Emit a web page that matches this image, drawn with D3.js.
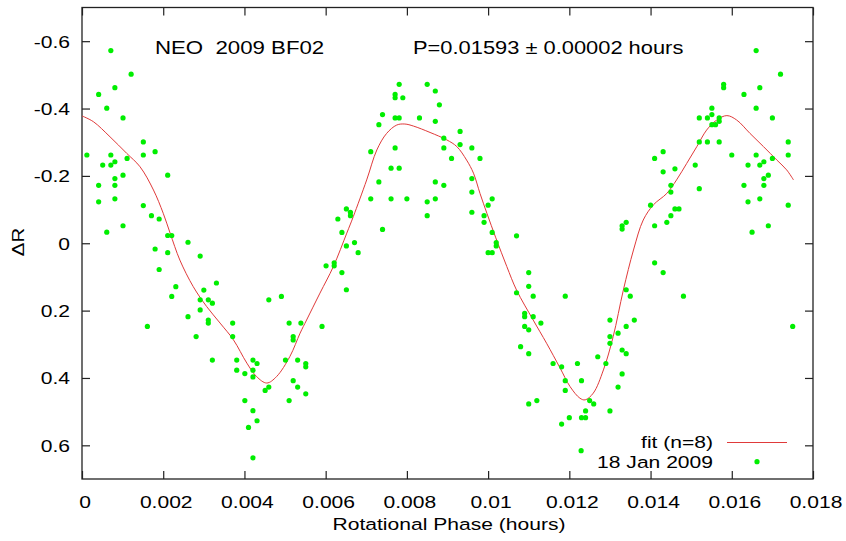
<!DOCTYPE html>
<html lang="en">
<head>
<meta charset="UTF-8">
<title>NEO 2009 BF02 lightcurve</title>
<style>
  body { margin: 0; background: #fff; }
  svg text { font-family: "Liberation Sans", Arial, Helvetica, sans-serif; font-size: 17px; fill: #000; }
  svg text.title { font-size: 17.5px; }
</style>
</head>
<body>
<div id="chart"></div>
<script src="https://cdn.jsdelivr.net/npm/d3@7"></script>
<script>
// observations, 18 Jan 2009 (rotational phase in hours, delta R in mag)
const phase = [
  0.00012, 0.00041, 0.00071, 0.00061, 0.00081, 0.00121, 0.00101, 0.00151, 0.00151, 0.00180,
  0.00071, 0.00051, 0.00071, 0.00081, 0.00111, 0.00101, 0.00211, 0.00041, 0.00081, 0.00081,
  0.00041, 0.00081, 0.00151, 0.00171, 0.00190, 0.00061, 0.00101, 0.00211, 0.00221, 0.00261,
  0.00180, 0.00211, 0.00291, 0.00190, 0.00231, 0.00221, 0.00331, 0.00300, 0.00291, 0.00311,
  0.00321, 0.00291, 0.00261, 0.00311, 0.00311, 0.00161, 0.00281, 0.00321, 0.00371, 0.00371,
  0.00381, 0.00381, 0.00401, 0.00421, 0.00431, 0.00421, 0.00421, 0.00401, 0.00421, 0.00431,
  0.00410, 0.00421, 0.00451, 0.00460, 0.00460, 0.00491, 0.00501, 0.00510, 0.00520, 0.00520,
  0.00510, 0.00520, 0.00531, 0.00531, 0.00539, 0.00551, 0.00551, 0.00551, 0.00591, 0.00601,
  0.00621, 0.00621, 0.00640, 0.00651, 0.00651, 0.00671, 0.00680, 0.00640, 0.00740, 0.01010,
  0.01020, 0.01020, 0.01000, 0.01010, 0.01070, 0.01070, 0.01100, 0.01100, 0.01111, 0.01090,
  0.01090, 0.01111, 0.01090, 0.01100, 0.01130, 0.01080, 0.01100, 0.01190, 0.01160, 0.01181,
  0.01220, 0.01190, 0.01190, 0.01100, 0.01120, 0.01181, 0.01200, 0.01229, 0.01410, 0.01431,
  0.01481, 0.01340, 0.01350, 0.01300, 0.01360, 0.01340, 0.01320, 0.01300, 0.01300, 0.01330,
  0.01340, 0.01270, 0.01290, 0.01230, 0.01330, 0.01320, 0.01250, 0.01260, 0.01240, 0.01300,
  0.01230, 0.01240, 0.01750, 0.00781, 0.00850, 0.00870, 0.00771, 0.00771, 0.00790, 0.00880,
  0.00740, 0.00771, 0.00781, 0.00831, 0.00870, 0.00731, 0.00931, 0.00891, 0.00931, 0.00891,
  0.00960, 0.00771, 0.00711, 0.00910, 0.00980, 0.00761, 0.00781, 0.00731, 0.00870, 0.00891,
  0.00960, 0.00960, 0.00711, 0.00761, 0.00800, 0.00850, 0.00870, 0.01010, 0.01000, 0.00850,
  0.00960, 0.00990, 0.00990, 0.00651, 0.00661, 0.00661, 0.00630, 0.01660, 0.01720, 0.01580,
  0.01580, 0.01669, 0.01630, 0.01551, 0.01660, 0.01520, 0.01540, 0.01551, 0.01569, 0.01569,
  0.01551, 0.01560, 0.01700, 0.01520, 0.01540, 0.01569, 0.01739, 0.01600, 0.01660, 0.01739,
  0.01700, 0.01679, 0.01640, 0.01669, 0.01510, 0.01410, 0.01431, 0.01431, 0.01460, 0.01690,
  0.01679, 0.01450, 0.01450, 0.01630, 0.01679, 0.01520, 0.01640, 0.01669, 0.01739, 0.01400,
  0.01460, 0.01470, 0.01450, 0.01440, 0.01410, 0.01330, 0.01330, 0.01340, 0.01650, 0.01690
];
const deltaR = [
  -0.262, -0.442, -0.572, -0.401, -0.462, -0.502, -0.372, -0.301, -0.262, -0.272,
  -0.262, -0.232, -0.232, -0.242, -0.252, -0.202, -0.202, -0.172, -0.192, -0.172,
  -0.123, -0.132, -0.112, -0.082, -0.072, -0.033, -0.052, -0.023, -0.023, -0.003,
  0.017, 0.028, 0.038, 0.078, 0.129, 0.158, 0.118, 0.139, 0.168, 0.168,
  0.178, 0.198, 0.218, 0.228, 0.237, 0.247, 0.277, 0.347, 0.237, 0.277,
  0.347, 0.377, 0.387, 0.347, 0.357, 0.377, 0.397, 0.467, 0.497, 0.527,
  0.547, 0.637, 0.437, 0.427, 0.168, 0.158, 0.347, 0.237, 0.277, 0.287,
  0.467, 0.408, 0.427, 0.347, 0.237, 0.357, 0.367, 0.447, 0.247, 0.067,
  0.058, 0.067, 0.087, 0.138, 0.008, -0.002, 0.028, -0.032, -0.041, -0.032,
  -0.002, 0.008, 0.028, 0.028, -0.022, 0.147, 0.087, 0.128, 0.157, 0.208,
  0.218, 0.218, 0.247, 0.257, 0.237, 0.307, 0.328, 0.157, 0.357, 0.367,
  0.357, 0.408, 0.437, 0.477, 0.467, 0.537, 0.518, 0.616, 0.058, 0.087,
  0.157, 0.138, 0.157, 0.228, 0.228, 0.247, 0.267, 0.277, 0.297, 0.317,
  0.328, 0.337, 0.357, 0.408, 0.388, 0.427, 0.467, 0.477, 0.498, 0.498,
  0.518, 0.518, 0.247, -0.472, -0.472, -0.452, -0.442, -0.432, -0.432, -0.411,
  -0.382, -0.372, -0.372, -0.372, -0.362, -0.352, -0.332, -0.312, -0.293, -0.283,
  -0.283, -0.283, -0.272, -0.252, -0.252, -0.223, -0.223, -0.182, -0.182, -0.172,
  -0.192, -0.152, -0.132, -0.132, -0.132, -0.123, -0.132, -0.132, -0.113, -0.082,
  -0.092, -0.082, -0.062, -0.102, -0.092, -0.082, -0.072, -0.572, -0.502, -0.472,
  -0.462, -0.462, -0.442, -0.401, -0.401, -0.372, -0.372, -0.382, -0.372, -0.362,
  -0.352, -0.352, -0.372, -0.301, -0.301, -0.301, -0.301, -0.262, -0.262, -0.262,
  -0.252, -0.242, -0.232, -0.232, -0.232, -0.252, -0.272, -0.212, -0.221, -0.202,
  -0.192, -0.172, -0.152, -0.172, -0.172, -0.162, -0.123, -0.132, -0.113, -0.113,
  -0.102, -0.102, -0.082, -0.062, -0.052, -0.052, -0.042, -0.062, -0.033, -0.052
];

// fourier fit (n=8)
const fitPhase = [
  0, 0.00028, 0.00069, 0.00110, 0.00143, 0.00176, 0.00200, 0.00217, 0.00241, 0.00274,
  0.00307, 0.00340, 0.00373, 0.00406, 0.00430, 0.00455, 0.00479, 0.00512, 0.00537, 0.00553,
  0.00586, 0.00619, 0.00652, 0.00668, 0.00701, 0.00726, 0.00750, 0.00775, 0.00795, 0.00816,
  0.00857, 0.00898, 0.00923, 0.00947, 0.00964, 0.00980, 0.00997, 0.01019, 0.01046, 0.01070,
  0.01111, 0.01144, 0.01177, 0.01202, 0.01226, 0.01239, 0.01259, 0.01284, 0.01308, 0.01333,
  0.01358, 0.01382, 0.01407, 0.01440, 0.01464, 0.01489, 0.01514, 0.01538, 0.01563, 0.01588,
  0.01612, 0.01645, 0.01678, 0.01711, 0.01735, 0.01752
];
const fitR = [
  -0.378, -0.361, -0.316, -0.267, -0.227, -0.158, -0.089, -0.030, 0.050, 0.129,
  0.188, 0.237, 0.287, 0.356, 0.396, 0.415, 0.396, 0.336, 0.267, 0.228,
  0.148, 0.069, -0.030, -0.079, -0.188, -0.277, -0.326, -0.351, -0.354, -0.348,
  -0.329, -0.307, -0.287, -0.247, -0.208, -0.148, -0.089, -0.016, 0.069, 0.139,
  0.228, 0.297, 0.370, 0.426, 0.460, 0.465, 0.445, 0.376, 0.277, 0.139,
  0.020, -0.069, -0.114, -0.148, -0.188, -0.237, -0.287, -0.336, -0.366, -0.379,
  -0.366, -0.326, -0.287, -0.247, -0.218, -0.188
];

const xTicks = [0, 0.002, 0.004, 0.006, 0.008, 0.010, 0.012, 0.014, 0.016, 0.018];
const yTicks = [-0.6, -0.4, -0.2, 0, 0.2, 0.4, 0.6];

const W = 846, H = 541;
const margin = {top: 7.5, right: 33, bottom: 62, left: 82};
const width = W - margin.left - margin.right,
      height = H - margin.top - margin.bottom;
const sx = 1.24; // the original lettering is stretched sideways

const svg = d3.select("#chart").append("svg")
    .attr("width", W)
    .attr("height", H);

const g = svg.append("g")
    .attr("transform", `translate(${margin.left},${margin.top})`);

const x = d3.scaleLinear().domain([0, 0.018]).range([0, width]);
const y = d3.scaleLinear().domain([-0.7, 0.7]).range([0, height]);

const fx = d => String(+d.toFixed(3));
const fy = d => String(+d.toFixed(1));

// axes, ticks pointing inward on all four sides
const xAxis = g.append("g")
    .attr("transform", `translate(0,${height})`)
    .call(d3.axisBottom(x).tickValues(xTicks).tickFormat(fx).tickSizeInner(-8).tickSizeOuter(0));
xAxis.selectAll("text")
    .attr("y", 29).attr("dy", null)
    .attr("x", 2.5 / sx)
    .attr("transform", `scale(${sx},1)`);

const yAxis = g.append("g")
    .call(d3.axisLeft(y).tickValues(yTicks).tickFormat(fy).tickSizeInner(-8).tickSizeOuter(0));
yAxis.selectAll("text")
    .attr("x", -12 / sx)
    .attr("dy", "0.35em")
    .attr("transform", `scale(${sx},1)`);

g.append("g")
    .call(d3.axisTop(x).tickValues(xTicks).tickFormat("").tickSizeInner(-8).tickSizeOuter(0));
g.append("g")
    .attr("transform", `translate(${width},0)`)
    .call(d3.axisRight(y).tickValues(yTicks).tickFormat("").tickSizeInner(-8).tickSizeOuter(0));

g.selectAll(".domain").remove();
g.selectAll(".tick line").attr("stroke", "#222").attr("stroke-width", 1.2);

g.append("rect")
    .attr("width", width)
    .attr("height", height)
    .attr("fill", "none")
    .attr("stroke", "#222")
    .attr("stroke-width", 1.3);

// fit curve
const line = d3.line()
    .x(d => x(d[0]))
    .y(d => y(d[1]))
    .curve(d3.curveCatmullRom);

g.append("path")
    .datum(d3.zip(fitPhase, fitR))
    .attr("fill", "none")
    .attr("stroke", "#e03a3a")
    .attr("stroke-width", 1)
    .attr("d", line);

// observations
g.selectAll(".obs")
    .data(d3.zip(phase, deltaR))
    .enter().append("circle")
    .attr("class", "obs")
    .attr("cx", d => x(d[0]))
    .attr("cy", d => y(d[1]))
    .attr("r", 2.6)
    .attr("fill", "#00ee00");

// labels
svg.append("text")
    .attr("class", "title")
    .attr("transform", "translate(155,53.5) scale(1.27,1)")
    .style("white-space", "pre")
    .text("NEO  2009 BF02");

svg.append("text")
    .attr("class", "title")
    .attr("transform", "translate(413,53.5) scale(1.25,1)")
    .text("P=0.01593 ± 0.00002 hours");

svg.append("text")
    .attr("transform", `translate(449,530) scale(${sx},1)`)
    .attr("text-anchor", "middle")
    .text("Rotational Phase (hours)");

svg.append("text")
    .attr("transform", "translate(23.5,242) rotate(-90) scale(1.2,1)")
    .attr("text-anchor", "middle")
    .text("ΔR");

// legend
const legend = svg.append("g").attr("transform", "translate(713,0)");
legend.append("text")
    .attr("transform", `translate(0,448) scale(${sx},1)`)
    .attr("text-anchor", "end")
    .text("fit (n=8)");
legend.append("line")
    .attr("x1", 14).attr("x2", 74)
    .attr("y1", 442.5).attr("y2", 442.5)
    .attr("stroke", "#e03a3a")
    .attr("stroke-width", 1);
legend.append("text")
    .attr("transform", `translate(0,467.5) scale(${sx},1)`)
    .attr("text-anchor", "end")
    .text("18 Jan 2009");
legend.append("circle")
    .attr("cx", 44).attr("cy", 461.7)
    .attr("r", 2.6)
    .attr("fill", "#00ee00");
</script>
</body>
</html>
